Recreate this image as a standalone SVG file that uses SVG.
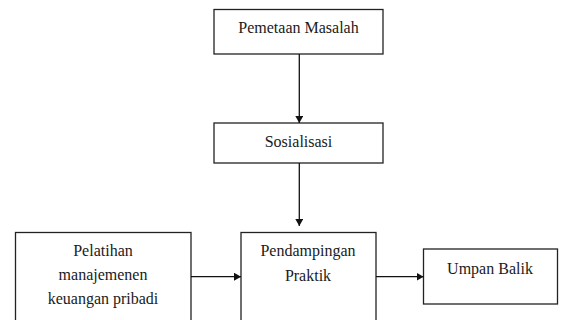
<svg xmlns="http://www.w3.org/2000/svg" width="562" height="320" viewBox="0 0 562 320">
<defs>
<style>
.box{fill:#fff;stroke:#222;stroke-width:1.3}
.t{font-family:"Liberation Serif","Times New Roman",serif;font-size:16px;fill:#1a1a1a;text-anchor:middle}
.c{stroke:#111;stroke-width:1.3;fill:none}
</style>
<marker id="ah" markerWidth="7" markerHeight="8" refX="7" refY="4" orient="auto" markerUnits="userSpaceOnUse">
<path d="M0,0 L7,4 L0,8 Z" fill="#111"/>
</marker>
</defs>
<rect width="562" height="320" fill="#fff"/>
<g id="n1"><rect class="box" x="214" y="9.5" width="169" height="44.5"/><text class="t" x="298.5" y="32.5">Pemetaan Masalah</text></g>
<g id="n2"><rect class="box" x="214" y="123" width="169" height="40"/><text class="t" x="298.5" y="146.5">Sosialisasi</text></g>
<g id="n3"><rect class="box" x="15.5" y="232.5" width="175.5" height="100"/><text class="t" x="103" y="255.5">Pelatihan</text><text class="t" x="103" y="280">manajemenen</text><text class="t" x="103" y="303.5">keuangan pribadi</text></g>
<g id="n4"><rect class="box" x="241" y="232.5" width="135" height="100"/><text class="t" x="308" y="255.5">Pendampingan</text><text class="t" x="308" y="281">Praktik</text></g>
<g id="n5"><rect class="box" x="423.5" y="249" width="134" height="55"/><text class="t" x="490" y="273.5">Umpan Balik</text></g>
<g id="connectors">
<line class="c" x1="299.3" y1="54" x2="299.3" y2="123" marker-end="url(#ah)"/>
<line class="c" x1="299.3" y1="163" x2="299.3" y2="226" marker-end="url(#ah)"/>
<line class="c" x1="191" y1="276.7" x2="241" y2="276.7" marker-end="url(#ah)"/>
<line class="c" x1="376" y1="276.7" x2="423.5" y2="276.7" marker-end="url(#ah)"/>
</g>
</svg>
